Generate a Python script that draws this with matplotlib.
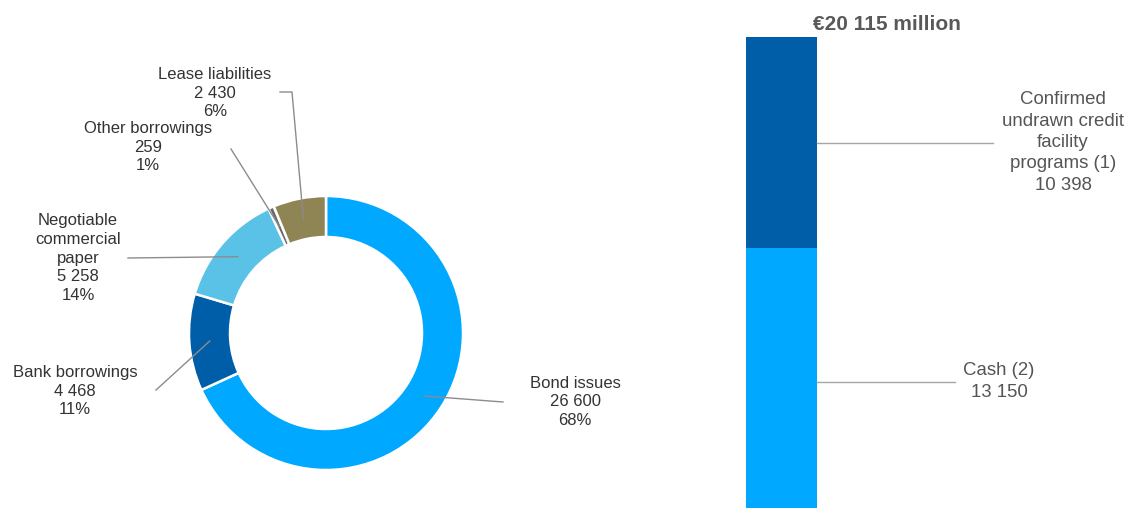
import numpy as np
import matplotlib
matplotlib.use("Agg")
import matplotlib.pyplot as plt

plt.rcParams["font.family"] = ["Liberation Sans", "DejaVu Sans"]

# --- data -------------------------------------------------------------
debt_labels = ["Bond issues", "Bank borrowings", "Negotiable\ncommercial\npaper",
               "Other borrowings", "Lease liabilities"]
debt_values = [26600, 4468, 5258, 259, 2430]
debt_values_txt = ["26 600", "4 468", "5 258", "259", "2 430"]
debt_pct_txt = ["68%", "11%", "14%", "1%", "6%"]
debt_colors = ["#00a9ff", "#005ea8", "#5bc2e7", "#6b6b6b", "#8f8454"]

liq_labels = ["Cash (2)", "Confirmed\nundrawn credit\nfacility\nprograms (1)"]
liq_values = [13150, 10398]
liq_values_txt = ["13 150", "10 398"]
liq_colors = ["#00a9ff", "#005ea8"]
liq_title = "€20 115 million"

W, H = 1127, 508
fig = plt.figure(figsize=(W / 100, H / 100), dpi=100)

# main axes in pixel units (y measured from the bottom)
ax = fig.add_axes([0, 0, 1, 1])
ax.set_xlim(0, W); ax.set_ylim(0, H)
ax.set_aspect("equal"); ax.axis("off")

cx, cy, R, ring = 326, H - 333, 137, 41
wedges, _ = ax.pie(debt_values, colors=debt_colors, startangle=90, counterclock=False,
                   center=(cx, cy), radius=R, frame=True,
                   wedgeprops=dict(width=ring, edgecolor="white", linewidth=1.8))
ax.set_xlim(0, W); ax.set_ylim(0, H); ax.axis("off")

# label text position (px from top) and leader start, per slice
txt_pos = [(575, 402), (75, 391), (78, 258), (148, 147), (215, 93)]
lead_from = [(503, 402), (156, 390), (128, 258), (231, 149), (280, 92)]
elbow = [None, None, None, None, (292, 92)]
lc = "#8c8c8c"
for w, lab, vt, pt, (tx, ty), (lx, ly), el in zip(
        wedges, debt_labels, debt_values_txt, debt_pct_txt, txt_pos, lead_from, elbow):
    mid = np.deg2rad((w.theta1 + w.theta2) / 2)
    r_a = R - ring / 2
    ax_x, ax_y = cx + r_a * np.cos(mid), cy + r_a * np.sin(mid)
    xs, ys = [lx], [H - ly]
    if el is not None:
        xs.append(el[0]); ys.append(H - el[1])
    xs.append(ax_x); ys.append(ax_y)
    ax.plot(xs, ys, color=lc, lw=1)
    ax.text(tx, H - ty, f"{lab}\n{vt}\n{pt}", ha="center", va="center",
            fontsize=12, color="#333333", linespacing=1.31)

# --- liquidity bar --------------------------------------------------------
total = sum(liq_values)
bar_top, bar_h = 37, 478
ax2 = fig.add_axes([746 / W, (H - bar_top - bar_h) / H, 71 / W, bar_h / H])
bottom = 0
mids = []
for v, c in zip(liq_values, liq_colors):
    ax2.bar(0, v, bottom=bottom, width=1, color=c)
    mids.append(bottom + v / 2)
    bottom += v
ax2.set_xlim(-0.5, 0.5); ax2.set_ylim(0, total); ax2.axis("off")

tr = ax2.get_yaxis_transform()
line_end = [(955 - 746) / 71, (993 - 746) / 71]
text_x = [(999 - 746) / 71, (1063 - 746) / 71]
for lab, vt, m, le, tx in zip(liq_labels, liq_values_txt, mids, line_end, text_x):
    ax2.plot([1, le], [m, m], color="#a6a6a6", lw=1, transform=tr, clip_on=False)
    ax2.text(tx, m, f"{lab}\n{vt}", transform=tr, ha="center", va="center",
             fontsize=13.4, color="#555555", linespacing=1.33)

ax.text(887, H - 25, liq_title, ha="center", va="center", fontsize=15,
        fontweight="bold", color="#595959")

fig.savefig("out.png", dpi=100)
